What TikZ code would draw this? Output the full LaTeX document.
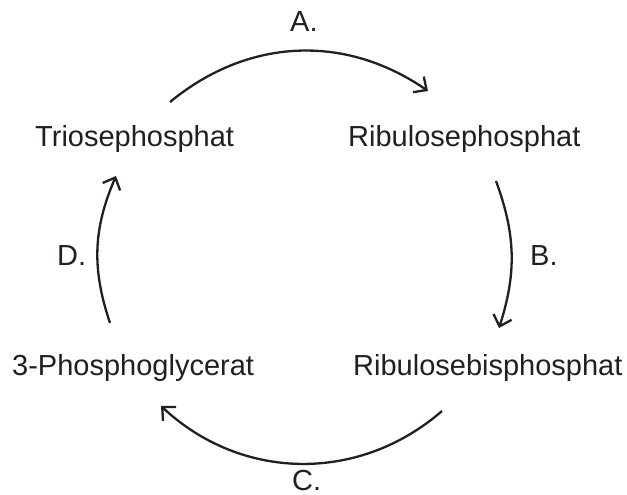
\documentclass[tikz,border=0pt]{standalone}
\usepackage{fontspec}
\setmainfont{Liberation Sans}
\usetikzlibrary{arrows.meta}
\definecolor{ink}{HTML}{231F20}
\begin{document}
\begin{tikzpicture}[x=1pt,y=1pt,
  lbl/.style={anchor=base west,inner sep=0pt,text=ink,font=\fontsize{29}{34}\selectfont},
  conn/.style={draw=ink,line width=2.3pt,-{Straight Barb[length=10pt,width=19pt,line width=2.3pt]}}]
\useasboundingbox (0,0) rectangle (627,495);
\node[lbl] (tri) at (35,348) {Triosephosphat};
\node[lbl] (rp) at (348,348) {Ribulosephosphat};
\node[lbl] (pg) at (12,119) {3-Phosphoglycerat};
\node[lbl] (rbp) at (353,119) {Ribulosebisphosphat};
\node[lbl] (la) at (290,463) {A.};
\node[lbl] (lb) at (530,229) {B.};
\node[lbl] (lc) at (292,4.5) {C.};
\node[lbl] (ld) at (57,229) {D.};
\coordinate (a1) at (170,393);
\coordinate (a2) at (428,404);
\coordinate (b1) at (496,314);
\coordinate (b2) at (499,167);
\coordinate (c1) at (442,84);
\coordinate (c2) at (161,89);
\coordinate (d1) at (110,172);
\coordinate (d2) at (116,319);
\draw[conn] (a1) to[bend left=37] (a2);
\draw[conn] (b1) to[bend left=19] (b2);
\draw[conn] (c1) to[bend left=42] (c2);
\draw[conn] (d1) to[bend left=21] (d2);
\end{tikzpicture}
\end{document}
